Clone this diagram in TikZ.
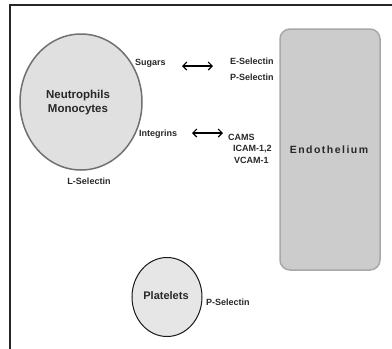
\documentclass[tikz,border=0pt]{standalone}
\usepackage{fontspec}
\setmainfont{Liberation Sans}
\usetikzlibrary{calc,arrows.meta}

\definecolor{cellfill}{HTML}{E0E0E0}
\definecolor{cellline}{HTML}{707070}
\definecolor{wallfill}{HTML}{CCCCCC}
\definecolor{wallline}{HTML}{A8A8A8}
\definecolor{ink}{HTML}{282828}

\tikzset{
  lbl/.style={font=\fontsize{9}{11}\selectfont\bfseries, text=ink, inner sep=0pt},
  bind/.style={{Straight Barb[length=4pt,width=8pt]}-{Straight Barb[length=4pt,width=8pt]}, line width=1.1pt},
}

\begin{document}
\begin{tikzpicture}[x=1pt,y=-1pt]
\useasboundingbox (0,0) rectangle (392,349);
% frame
\draw[line width=1.6pt,black!85] (392,5) -- (10,5) -- (10,349);
% cells
\draw[cellline,line width=1.5pt,fill=cellfill] (81,102) ellipse (61 and 68);
\node[lbl,align=center,font=\fontsize{11.5}{14}\selectfont\bfseries] (leuko) at (78,103) {Neutrophils\\Monocytes};
\draw[black!90,line width=1pt,fill=cellfill!80!white] (167,297) ellipse (35 and 39.5);
\node[lbl,font=\fontsize{11}{13}\selectfont\bfseries] (plat) at (166,296) {Platelets};
% endothelium
\draw[wallline,line width=1.5pt,fill=wallfill,rounded corners=10pt] (280,29) rectangle (380,270);
\node[lbl,font=\fontsize{10.5}{12}\selectfont\bfseries\addfontfeatures{LetterSpace=14}] (endo) at (329,150) {Endothelium};
% receptors and ligands
\node[lbl,anchor=west] (sugars) at (135,63) {Sugars};
\node[lbl,anchor=west] (integ) at (139,134) {Integrins};
\node[lbl] (lsel) at (89,181) {L-Selectin};
\node[lbl,anchor=west] (esel) at (230,61) {E-Selectin};
\node[lbl,anchor=west] (psel) at (230,77) {P-Selectin};
\node[lbl,anchor=west] (cams) at (228,137) {CAMS};
\node[lbl,anchor=west] (icam) at (233,149) {ICAM-1,2};
\node[lbl,anchor=west] (vcam) at (234,160) {VCAM-1};
\node[lbl,anchor=west] (psel2) at (206,302) {P-Selectin};
% binding arrows
\coordinate (s1) at (182,66); \coordinate (s2) at (213,66);
\coordinate (i1) at (192,133); \coordinate (i2) at (223,133);
\draw[bind] (s1) -- (s2);
\draw[bind] (i1) -- (i2);
\end{tikzpicture}
\end{document}
